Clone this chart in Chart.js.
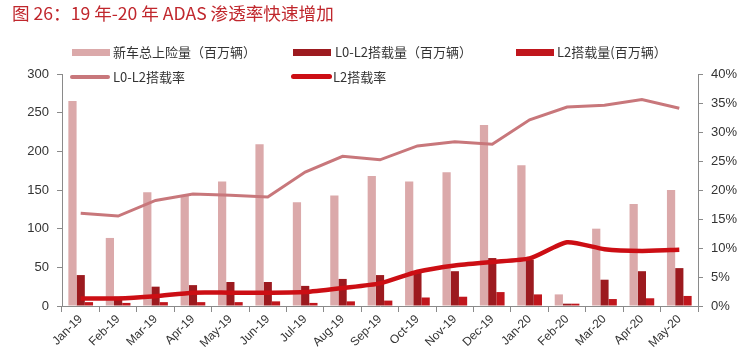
<!DOCTYPE html>
<html>
<head>
<meta charset="utf-8">
<script src="https://cdn.jsdelivr.net/npm/chart.js@4"></script>
<style>
  body { margin: 0; background: #fff; }
  #wrap { position: relative; width: 741px; height: 361px; }
  #chart { position: absolute; left: 0; top: 0; }
  .title { position: absolute; left: 12px; top: 0px; font: 17.6px "Noto Sans CJK SC", sans-serif; color: #c0272d; white-space: nowrap; }
  .lg { position: absolute; font: 13px "Noto Sans CJK SC", sans-serif; color: #333; white-space: nowrap; line-height: 16px; }
  .sw { position: absolute; }
</style>
</head>
<body>
<div id="wrap">
  <canvas id="chart" width="741" height="361"></canvas>
  <div class="title">图 26：19 年-20 年 ADAS 渗透率快速增加</div>

  <div class="sw" style="left:72px;top:49px;width:38px;height:7px;background:#dba9aa"></div>
  <div class="lg" style="left:113px;top:44px">新车总上险量（百万辆）</div>
  <div class="sw" style="left:293px;top:49px;width:38px;height:7px;background:#9c1a1f"></div>
  <div class="lg" style="left:335px;top:44px">L0-L2搭载量（百万辆）</div>
  <div class="sw" style="left:516px;top:49px;width:38px;height:7px;background:#c0161d"></div>
  <div class="lg" style="left:557px;top:44px">L2搭载量(百万辆）</div>

  <div class="sw" style="left:70px;top:75px;width:40px;height:4px;border-radius:2px;background:#c8777b"></div>
  <div class="lg" style="left:113px;top:69px">L0-L2搭载率</div>
  <div class="sw" style="left:291px;top:74px;width:41px;height:5px;border-radius:3px;background:#cc0e14"></div>
  <div class="lg" style="left:333px;top:69px">L2搭载率</div>
</div>
<script>
const months = ["Jan-19", "Feb-19", "Mar-19", "Apr-19", "May-19", "Jun-19", "Jul-19", "Aug-19", "Sep-19",
  "Oct-19", "Nov-19", "Dec-19", "Jan-20", "Feb-20", "Mar-20", "Apr-20", "May-20"];

// 百万辆
const totalNew = [265, 88, 147, 143, 161, 209, 134, 143, 168, 161, 173, 234, 182, 15, 100, 132, 150];
const l0l2Volume = [40, 12, 25, 27, 31, 31, 26, 35, 40, 44, 45, 62, 60, 3, 34, 45, 49];
const l2Volume = [5, 4, 5, 5, 5, 6, 4, 6, 7, 11, 12, 18, 15, 3, 9, 10, 13];

// %
const l0l2Rate = [16.0, 15.5, 18.2, 19.3, 19.1, 18.8, 23.1, 25.8, 25.2, 27.6, 28.3, 27.9, 32.1, 34.3, 34.6, 35.6, 34.1];
const l2Rate = [1.3, 1.3, 1.7, 2.3, 2.3, 2.3, 2.4, 3.1, 3.9, 5.9, 7.0, 7.6, 8.2, 11.0, 9.8, 9.5, 9.7];

const tickFont = { family: "'Liberation Sans', sans-serif", size: 13 };
const axisColor = "#8a8a8a";

new Chart(document.getElementById("chart"), {
  type: "bar",
  data: {
    labels: months,
    datasets: [
      { type: "line", label: "L0-L2搭载率", data: l0l2Rate, yAxisID: "y1", borderColor: "#c8777b",
        borderWidth: 3, pointRadius: 0, tension: 0, order: 0 },
      { type: "line", label: "L2搭载率", data: l2Rate, yAxisID: "y1", borderColor: "#cc0e14",
        borderWidth: 4.5, pointRadius: 0, tension: 0.2, order: 0 },
      { label: "新车总上险量（百万辆）", data: totalNew, backgroundColor: "#dba9aa", yAxisID: "y", order: 1 },
      { label: "L0-L2搭载量（百万辆）", data: l0l2Volume, backgroundColor: "#9c1a1f", yAxisID: "y", order: 1 },
      { label: "L2搭载量(百万辆）", data: l2Volume, backgroundColor: "#c0161d", yAxisID: "y", order: 1 }
    ]
  },
  options: {
    responsive: false,
    animation: false,
    categoryPercentage: 0.66,
    barPercentage: 1.0,
    layout: { padding: { top: 74, left: 0, right: 0, bottom: 0 } },
    plugins: {
      legend: { display: false },
      tooltip: { enabled: false }
    },
    scales: {
      x: {
        grid: { display: true, drawOnChartArea: false, offset: true, color: axisColor, tickLength: 6 },
        border: { color: axisColor },
        ticks: { color: "#333", font: { family: "'Liberation Sans', sans-serif", size: 12 }, minRotation: 45, maxRotation: 45, padding: 0 },
        afterFit: scale => { scale.height = 55; }
      },
      y: {
        position: "left",
        min: 0, max: 300,
        grid: { drawOnChartArea: false, color: axisColor, tickLength: 5 },
        border: { color: axisColor },
        ticks: { stepSize: 50, color: "#333", font: tickFont, padding: 8 },
        afterFit: scale => { scale.width = 62; }
      },
      y1: {
        position: "right",
        min: 0, max: 40,
        grid: { drawOnChartArea: false, color: axisColor, tickLength: 5 },
        border: { color: axisColor },
        ticks: { stepSize: 5, color: "#333", font: tickFont, padding: 8, callback: v => v + "%" },
        afterFit: scale => { scale.width = 43; }
      }
    }
  }
});
</script>
</body>
</html>
